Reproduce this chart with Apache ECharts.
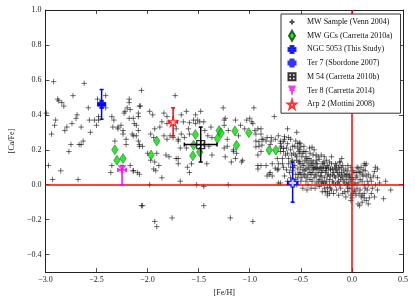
<!DOCTYPE html>
<html>
<head>
<meta charset="utf-8">
<script src="https://cdn.jsdelivr.net/npm/echarts@6/dist/echarts.min.js"></script>
<style>html,body{margin:0;padding:0;background:#fff}#c{width:415px;height:302px}</style>
</head>
<body>
<div id="c"></div>
<script>
// ---------------- DATA ----------------
const xTicks = [-3.0, -2.5, -2.0, -1.5, -1.0, -0.5, 0.0, 0.5];
const yTicks = [-0.4, -0.2, 0.0, 0.2, 0.4, 0.6, 0.8, 1.0];
const xRange = [-3.0, 0.5];
const yRange = [-0.5, 1.0];
const refFe = 0.0;
const refCa = 0.0;

const mwName = 'MW Sample (Venn 2004)';
// [Fe/H], [Ca/Fe]
const mwSample = [
[-2.92,0.59],[-2.62,0.58],[-2.06,0.54],[-2.88,0.49],[-2.87,0.48],[-2.84,0.47],[-2.82,0.45],[-2.73,0.51],[-2.49,0.49],[-2.41,0.51],
[-2.58,0.44],[-2.99,0.41],[-2.90,0.37],[-2.91,0.34],[-2.94,0.29],[-2.81,0.31],[-2.79,0.33],[-2.74,0.35],[-2.70,0.38],[-2.69,0.40],
[-2.65,0.33],[-2.56,0.30],[-2.57,0.37],[-2.52,0.37],[-2.48,0.37],[-2.50,0.34],[-2.48,0.39],[-2.35,0.39],[-2.33,0.37],[-2.34,0.33],
[-2.32,0.25],[-2.29,0.33],[-2.26,0.34],[-2.22,0.42],[-2.18,0.49],[-2.18,0.47],[-2.17,0.43],[-2.18,0.38],[-2.14,0.38],[-2.13,0.35],
[-2.11,0.34],[-2.09,0.39],[-2.07,0.45],[-2.24,0.29],[-2.15,0.29],[-2.09,0.31],[-2.11,0.28],[-2.75,0.23],[-2.65,0.23],[-2.63,0.25],
[-2.21,0.23],[-2.08,0.23],[-2.77,0.19],[-2.97,0.11],[-2.85,0.08],[-2.93,0.03],[-2.68,0.03],[-2.36,0.07],[-2.35,0.11],[-2.17,0.11],
[-2.14,0.08],[-2.10,0.07],[-2.05,-0.12],[-2.20,0.44],[-2.08,0.45],[-2.41,0.44],[-2.23,0.41],[-2.09,0.41],[-2.29,0.32],[-2.24,0.31],
[-2.14,0.28],[-2.21,0.26],[-2.05,0.22],[-2.00,0.18],[-2.14,0.08],[-2.67,0.23],[-2.09,0.25],[-2.08,0.22],
[-1.98,0.42],[-1.95,0.40],[-1.84,0.41],[-1.81,0.39],[-1.67,0.40],[-1.73,0.51],[-1.93,0.32],[-1.97,0.29],[-1.88,0.33],[-1.86,0.36],
[-1.81,0.35],[-1.72,0.32],[-1.70,0.26],[-1.67,0.29],[-1.64,0.27],[-1.81,0.26],[-1.84,0.28],[-1.91,0.18],[-1.93,0.13],[-1.89,0.11],
[-1.86,0.04],[-1.68,0.02],[-1.79,0.16],[-1.70,0.15],[-1.98,0.00],[-1.62,0.42],[-1.48,0.42],[-1.26,0.44],[-0.96,0.44],[-0.76,0.39],
[-1.24,0.38],[-1.14,0.37],[-1.03,0.37],[-1.00,0.38],[-1.53,0.40],[-1.55,0.37],[-1.51,0.37],[-1.53,0.35],[-1.49,0.36],[-1.59,0.355],
[-1.65,0.36],[-1.94,0.27],[-1.78,0.28],[-1.75,0.27],[-1.70,0.25],[-1.60,0.32],[-1.59,0.29],[-1.45,0.36],[-1.44,0.31],[-1.38,0.33],
[-1.41,0.28],[-1.37,0.27],[-1.25,0.37],[-1.25,0.34],[-1.21,0.31],[-1.22,0.26],[-1.25,0.21],[-1.22,0.22],[-1.09,0.34],[-1.05,0.32],
[-1.11,0.28],[-1.13,0.18],[-1.16,0.19],[-1.14,0.15],[-1.07,0.14],[-0.97,0.35],[-0.95,0.31],[-0.89,0.29],[-0.87,0.26],[-0.94,0.25],
[-0.91,0.22],[-0.89,0.19],[-0.84,0.25],[-0.79,0.25],[-0.75,0.26],[-0.70,0.25],[-0.80,0.23],[-0.70,0.21],[-0.92,0.17],[-0.89,0.11],
[-0.92,0.09],[-0.83,0.05],[-0.80,0.07],[-0.72,0.09],[-0.70,0.01],[-1.24,0.16],[-1.18,0.13],[-1.08,0.13],[-1.62,0.21],[-1.68,0.21],
[-1.45,0.23],[-1.40,0.22],[-1.37,0.17],[-1.42,0.12],[-1.57,0.12],[-1.59,0.07],[-1.61,0.10],[-1.70,0.12],[-1.72,0.15],[-1.82,0.17],
[-1.97,0.14],[-1.94,0.09],[-1.92,0.08],[-2.08,0.06],[-1.52,0.00],[-1.45,-0.01],[-1.21,0.00],
[-2.06,-0.12],[-1.93,-0.21],[-1.91,-0.24],[-1.76,-0.19],[-1.45,-0.12],[-1.19,-0.19],[-0.97,-0.21],
[-0.98,0.36],[-0.63,0.32],[-0.54,0.30],[-0.51,0.24],[-0.53,0.21],[-0.60,0.26],[-0.66,0.26],[-0.72,0.28],[-0.79,0.27],[-0.83,0.27],
[-0.88,0.26],[-0.92,0.32],[-0.89,0.32],[-0.94,0.29],[-0.91,0.246],[-0.94,0.217],[-0.88,0.227],[-0.70,0.237],[-0.67,0.208],[-0.63,0.18],
[-0.59,0.17],[-0.62,0.15],[-0.58,0.14],[-0.54,0.16],[-0.51,0.18],[-0.68,0.15],[-0.72,0.12],[-0.67,0.10],[-0.64,0.085],[-0.73,0.085],
[-0.81,0.06],[-0.78,0.05],[-0.72,0.01],[-1.16,0.20],[-0.92,0.11],[-0.84,0.11],[-0.78,0.12],[-0.51,0.12],[-0.50,0.06],[-0.53,0.04],
[-0.66,0.275],[-0.67,0.246],[-0.53,0.235],[-0.70,0.19],[-0.73,0.15],[-0.75,0.095],[-0.45,0.19],[-0.42,0.15],[-0.25,0.095],[-0.24,-0.015],
[-0.22,-0.05],[-0.48,-0.02],[-0.28,0.01],[-0.35,0.09],
[-0.51,0.235],[-0.50,0.217],[-0.48,0.18],[-0.415,0.21],[-0.39,0.215],[-0.37,0.20],[-0.38,0.17],[-0.33,0.16],[-0.32,0.145],[-0.27,0.16],
[-0.29,0.12],[-0.22,0.13],[-0.16,0.12],[-0.12,0.13],[-0.13,0.10],[-0.21,0.085],[-0.26,0.095],[-0.34,0.095],[-0.38,0.085],[-0.43,0.10],
[-0.48,0.085],[-0.51,0.07],[-0.46,0.05],[-0.40,0.057],[-0.35,0.05],[-0.30,0.07],[-0.24,0.05],[-0.19,0.057],[-0.14,0.07],[-0.10,0.05],
[-0.05,0.06],[-0.02,0.04],[0.04,0.07],[0.07,0.075],[0.11,0.085],[0.13,0.11],[0.06,0.095],[0.14,0.05],[0.15,0.02],[0.01,0.03],
[0.12,0.00],[0.02,-0.03],[0.04,-0.06],[0.07,-0.05],[0.09,-0.07],[0.12,-0.075],[0.06,-0.11],[0.15,-0.03],[-0.04,-0.02],[-0.07,-0.04],
[-0.15,-0.03],[-0.21,-0.02],[-0.18,-0.05],[-0.24,-0.04],[-0.24,-0.06],[-0.27,-0.02],[-0.32,-0.01],[-0.40,-0.02],[-0.43,0.00],[-0.12,0.00],
[-0.04,0.00],[-0.16,0.00],[-0.51,0.135],[-0.46,0.14],[-0.39,0.12],
[0.075,-0.12],[0.12,0.12],[0.22,0.075],[0.25,0.09],[0.25,0.04],[0.27,0.01],[0.33,0.02],[0.38,-0.03],[0.31,-0.08],[0.25,-0.03],
[0.19,-0.05],[0.17,-0.075],[0.12,-0.05],[0.23,0.00],[0.19,0.02],[0.16,0.06],[-0.115,0.13],[-0.63,0.235],[-0.64,0.21],[-0.51,0.20],
[-0.67,0.19],[-0.47,0.19],[-0.44,0.15],[-0.30,0.095],[-0.26,-0.04],[-0.04,-0.04],[-0.01,-0.06],[0.00,-0.075],[0.01,-0.05],[-0.05,0.00],
[-0.30,0.01],[-0.37,0.095],[0.23,0.10],[-0.10,0.15],[0.14,0.12],
[-0.62,0.12],[-0.60,0.10],[-0.58,0.08],[-0.56,0.11],[-0.55,0.06],[-0.53,0.09],[-0.52,0.13],[-0.50,0.10],[-0.49,0.04],[-0.47,0.11],
[-0.46,0.08],[-0.45,0.02],[-0.44,0.13],[-0.43,0.06],[-0.42,0.09],[-0.41,0.03],[-0.40,0.11],[-0.39,0.07],[-0.38,0.13],[-0.37,0.04],
[-0.36,0.10],[-0.35,0.01],[-0.34,0.12],[-0.33,0.07],[-0.32,0.03],[-0.31,0.10],[-0.30,0.05],[-0.29,0.08],[-0.28,0.13],[-0.27,0.04],
[-0.26,0.07],[-0.25,0.02],[-0.24,0.11],[-0.23,0.06],[-0.22,0.03],[-0.21,0.09],[-0.20,0.12],[-0.19,0.02],[-0.18,0.07],[-0.17,0.10],
[-0.16,0.04],[-0.15,0.08],[-0.14,0.01],[-0.13,0.05],[-0.12,0.09],[-0.11,0.03],[-0.10,0.07],[-0.09,0.11],[-0.08,0.02],[-0.07,0.06],
[-0.06,0.09],[-0.05,0.03],[-0.04,0.08],[-0.03,0.01],[-0.02,0.06],[-0.01,0.10],[0.00,0.04],[0.02,0.07],[0.03,0.01],[0.05,0.05],
[0.08,0.03],[0.09,0.10],[0.10,0.06],[-0.57,0.02],[-0.54,0.00],[-0.44,-0.03],[-0.36,-0.02],[-0.29,-0.04],[-0.20,-0.03],[-0.11,-0.02],
[-0.09,-0.05],[-0.02,-0.02],[0.03,-0.04],[-0.60,0.20],[-0.57,0.18],[-0.55,0.25],[-0.58,0.22],[-0.62,0.27],[-0.45,0.16],[-0.41,0.18],
[-0.35,0.14],[-0.30,0.17],[-0.25,0.14],[-0.20,0.16],[-0.60,0.04],[-0.66,0.05],[-0.63,0.02],[-0.68,0.12],[-0.52,0.19],[-0.49,0.16],
[-0.61,0.07],[-0.59,0.13],[-0.57,0.10],[-0.55,0.03],[-0.54,0.14],[-0.52,0.06],[-0.50,0.02],[-0.48,0.12],[-0.47,0.06],[-0.45,0.09],
[-0.44,0.04],[-0.42,0.12],[-0.41,0.07],[-0.39,0.02],[-0.38,0.10],[-0.36,0.06],[-0.35,0.12],[-0.33,0.02],[-0.32,0.09],[-0.31,0.05],
[-0.29,0.02],[-0.28,0.10],[-0.27,0.12],[-0.26,0.01],[-0.25,0.08],[-0.23,0.10],[-0.22,0.00],[-0.21,0.05],[-0.19,0.09],[-0.18,0.01],
[-0.17,0.05],[-0.16,0.09],[-0.15,0.11],[-0.13,0.02],[-0.12,0.06],[-0.10,0.10],[-0.09,0.04],[-0.08,0.08],[-0.07,0.01],[-0.06,0.05],
[-0.04,0.11],[-0.03,0.05],[-0.01,0.02],[0.01,0.08],[0.02,0.00],[0.04,0.04],[0.05,0.10],[0.06,0.01],[0.08,0.07],[0.10,0.02],
[0.11,0.05],[0.13,0.08],[0.05,-0.02],[0.08,-0.03],[0.10,-0.06],[0.13,-0.02],[0.16,0.00],[0.18,0.04],[0.21,0.05],[0.20,-0.02],
[0.22,-0.07],[0.14,-0.09],[0.10,-0.10],[0.16,-0.11],[-0.01,-0.09],[-0.06,-0.07],[-0.13,-0.06],[-0.35,0.17],[-0.40,0.14],[-0.55,0.17],
[-0.65,0.17],[-0.69,0.22],[-0.56,0.22],[-0.47,0.22]
];

const gcName = 'MW GCs (Carretta 2010a)';
const gcFe = [-2.32, -2.30, -2.24, -1.966, -1.91, -1.532, -1.55, -1.557, -1.49, -1.30, -1.28, -1.316, -1.145, -1.13, -1.01, -0.81, -0.745];
const gcCa = [0.20, 0.14, 0.15, 0.17, 0.25, 0.287, 0.226, 0.166, 0.187, 0.31, 0.296, 0.264, 0.308, 0.226, 0.298, 0.198, 0.198];

const clusterNames = ['NGC 5053 (This Study)', 'Ter 7 (Sbordone 2007)', 'M 54 (Carretta 2010b)', 'Ter 8 (Carretta 2014)', 'Arp 2 (Mottini 2008)'];
const clusterFe = [-2.45, -0.58, -1.48, -2.25, -1.75];
const clusterCa = [0.46, 0.01, 0.23, 0.085, 0.36];
const clusterFeErr = [0.03, 0.05, 0.16, 0.04, 0.04];
const clusterCaErrUp = [0.085, 0.12, 0.10, 0.025, 0.08];
const clusterCaErrDown = [0.085, 0.11, 0.10, 0.085, 0.08];

// ---------------- STYLE ----------------
const FONT = 'Liberation Serif';
const clusterColors = ['#0000ff', '#0000ff', '#000000', '#ff00ff', '#ff0000'];
const plusPath = 'path://M0,5L10,5M5,0L5,10';
const clusterSymbols = [
  'path://M3,0H7V3H10V7H7V10H3V7H0V3H3Z',
  'path://M3,0H7V3H10V7H7V10H3V7H0V3H3Z',
  'path://M0,0H10V10H0ZM5,0V10M0,5H10',
  'path://M1,1L5,5L9,1M5,5L5,10M0,1L10,1',
  'path://M5,0L6.2,3.5L10,3.6L7,5.9L8.1,9.5L5,7.4L1.9,9.5L3,5.9L0,3.6L3.8,3.5Z'
];
// legend icons drawn in a 20x10 box (corner move-tos fix the box)
const legendIcons = [
  'path://M0,0M20,10M7.5,5L12.5,5M10,2.5L10,7.5',
  'path://M0,0M20,10M10,0L13,5L10,10L7,5Z',
  'path://M0,0M20,10M8.5,1.5H11.5V3.5H13.5V6.5H11.5V8.5H8.5V6.5H6.5V3.5H8.5Z',
  'path://M0,0M20,10M8.5,1.5H11.5V3.5H13.5V6.5H11.5V8.5H8.5V6.5H6.5V3.5H8.5ZM10,1.5V8.5M6.5,5H13.5',
  'path://M0,0M20,10M6.5,1.5H13.5V8.5H6.5ZM10,1.5V8.5M6.5,5H13.5',
  'path://M0,0M20,10M6.5,1H13.5M10,1V9M7,1L10,5L13,1M7.5,4.5H12.5',
  'path://M0,0M20,10M10,1L11,4.3L14,4.3L11.6,6.2L12.5,9.3L10,7.4L7.5,9.3L8.4,6.2L6,4.3L9,4.3Z'
];
const clusterFill = ['#0000ff', '#ffffff', 'rgba(0,0,0,0)', 'rgba(0,0,0,0)', '#ffffff'];
const clusterSizes = [8, 8, 8, 8, 9];

const fmt = v => (Math.abs(v) < 1e-9 ? 0 : v).toFixed(1).replace('-', '\u2212');

const chart = echarts.init(document.getElementById('c'), null, {renderer: 'canvas'});

const axisCommon = {
  axisLine: {show: true, onZero: false, lineStyle: {color: '#222', width: 1}},
  splitLine: {show: false},
  axisTick: {show: true, inside: true, length: 4, lineStyle: {color: '#222', width: 0.8}},
  axisLabel: {fontFamily: FONT, fontSize: 8, color: '#222', formatter: fmt}
};

const series = [];
series.push({
  name: mwName, type: 'scatter', z: 2,
  symbol: plusPath, symbolSize: 5.5,
  itemStyle: {color: 'rgba(0,0,0,0)', borderColor: 'rgba(20,20,20,0.72)', borderWidth: 0.85, opacity: 1},
  emphasis: {disabled: true},
  data: mwSample,
  markLine: {
    silent: true, symbol: ['none', 'none'], animation: false, z: 3,
    label: {show: false},
    lineStyle: {color: '#ff0000', width: 1.5, type: 'solid'},
    emphasis: {disabled: true},
    data: [{xAxis: refFe}, {yAxis: refCa}]
  }
});
series.push({
  name: gcName, type: 'scatter', z: 4,
  symbol: 'diamond', symbolSize: [6.5, 10],
  itemStyle: {color: '#00e000', borderColor: '#004400', borderWidth: 0.5},
  data: gcFe.map((v, i) => [v, gcCa[i]])
});
series.push({
  name: 'errbars', type: 'custom', z: 5, silent: true,
  data: clusterFe.map((v, i) => [v, clusterCa[i], clusterFeErr[i], clusterCaErrUp[i], clusterCaErrDown[i]]),
  renderItem: function (params, api) {
    const fe = api.value(0), ca = api.value(1), fx = api.value(2), up = api.value(3), dn = api.value(4);
    const t = api.coord([fe, ca + up]), b = api.coord([fe, ca - dn]);
    const l = api.coord([fe - fx, ca]), r = api.coord([fe + fx, ca]);
    const col = clusterColors[params.dataIndex];
    const st = {stroke: col, lineWidth: 1.5};
    const cap = 2;
    const ln = (x1, y1, x2, y2) => ({type: 'line', shape: {x1, y1, x2, y2}, style: st});
    return {type: 'group', children: [
      ln(t[0], t[1], b[0], b[1]),
      ln(t[0] - cap, t[1], t[0] + cap, t[1]),
      ln(b[0] - cap, b[1], b[0] + cap, b[1]),
      ln(l[0], l[1], r[0], r[1]),
      ln(l[0], l[1] - cap, l[0], l[1] + cap),
      ln(r[0], r[1] - cap, r[0], r[1] + cap)
    ]};
  }
});
clusterNames.forEach((nm, i) => {
  series.push({
    name: nm, type: 'scatter', z: 6,
    symbol: clusterSymbols[i], symbolSize: clusterSizes[i],
    itemStyle: {color: clusterFill[i], borderColor: clusterColors[i], borderWidth: 1.3},
    data: [[clusterFe[i], clusterCa[i]]]
  });
});

const legendNames = [mwName, gcName].concat(clusterNames);

chart.setOption({
  animation: false,
  backgroundColor: '#fff',
  textStyle: {fontFamily: FONT},
  grid: {left: 35, right: 12, top: 10, bottom: 27, containLabel: false},
  legend: {
    left: 281, top: 14, orient: 'vertical',
    data: legendNames.map((n, i) => ({name: n, icon: legendIcons[i]})),
    itemWidth: 20, itemHeight: 10, itemGap: 1.7,
    padding: [2, 8, 3, 0],
    backgroundColor: '#fff', borderColor: '#333', borderWidth: 1,
    textStyle: {fontFamily: FONT, fontSize: 8, color: '#111'},
    selectedMode: false
  },
  xAxis: [
    Object.assign({}, axisCommon, {type: 'value', position: 'bottom', min: xRange[0], max: xRange[1], interval: 0.5,
      name: '[Fe/H]', nameLocation: 'middle', nameGap: 15,
      nameTextStyle: {fontFamily: FONT, fontSize: 8, color: '#222'},
      axisLabel: Object.assign({}, axisCommon.axisLabel, {margin: 4, showMinLabel: true, showMaxLabel: true})}),
    Object.assign({}, axisCommon, {type: 'value', position: 'top', min: xRange[0], max: xRange[1], interval: 0.5,
      axisLabel: {show: false}})
  ],
  yAxis: [
    Object.assign({}, axisCommon, {type: 'value', position: 'left', min: yRange[0], max: yRange[1],
      name: '[Ca/Fe]', nameLocation: 'middle', nameGap: 27, nameRotate: 90,
      nameTextStyle: {fontFamily: FONT, fontSize: 8, color: '#222'},
      axisTick: Object.assign({}, axisCommon.axisTick, {customValues: yTicks}),
      axisLabel: Object.assign({}, axisCommon.axisLabel, {customValues: yTicks, margin: 4})}),
    Object.assign({}, axisCommon, {type: 'value', position: 'right', min: yRange[0], max: yRange[1],
      axisTick: Object.assign({}, axisCommon.axisTick, {customValues: yTicks}),
      axisLabel: {show: false}})
  ],
  series: series
});
</script>
</body>
</html>
